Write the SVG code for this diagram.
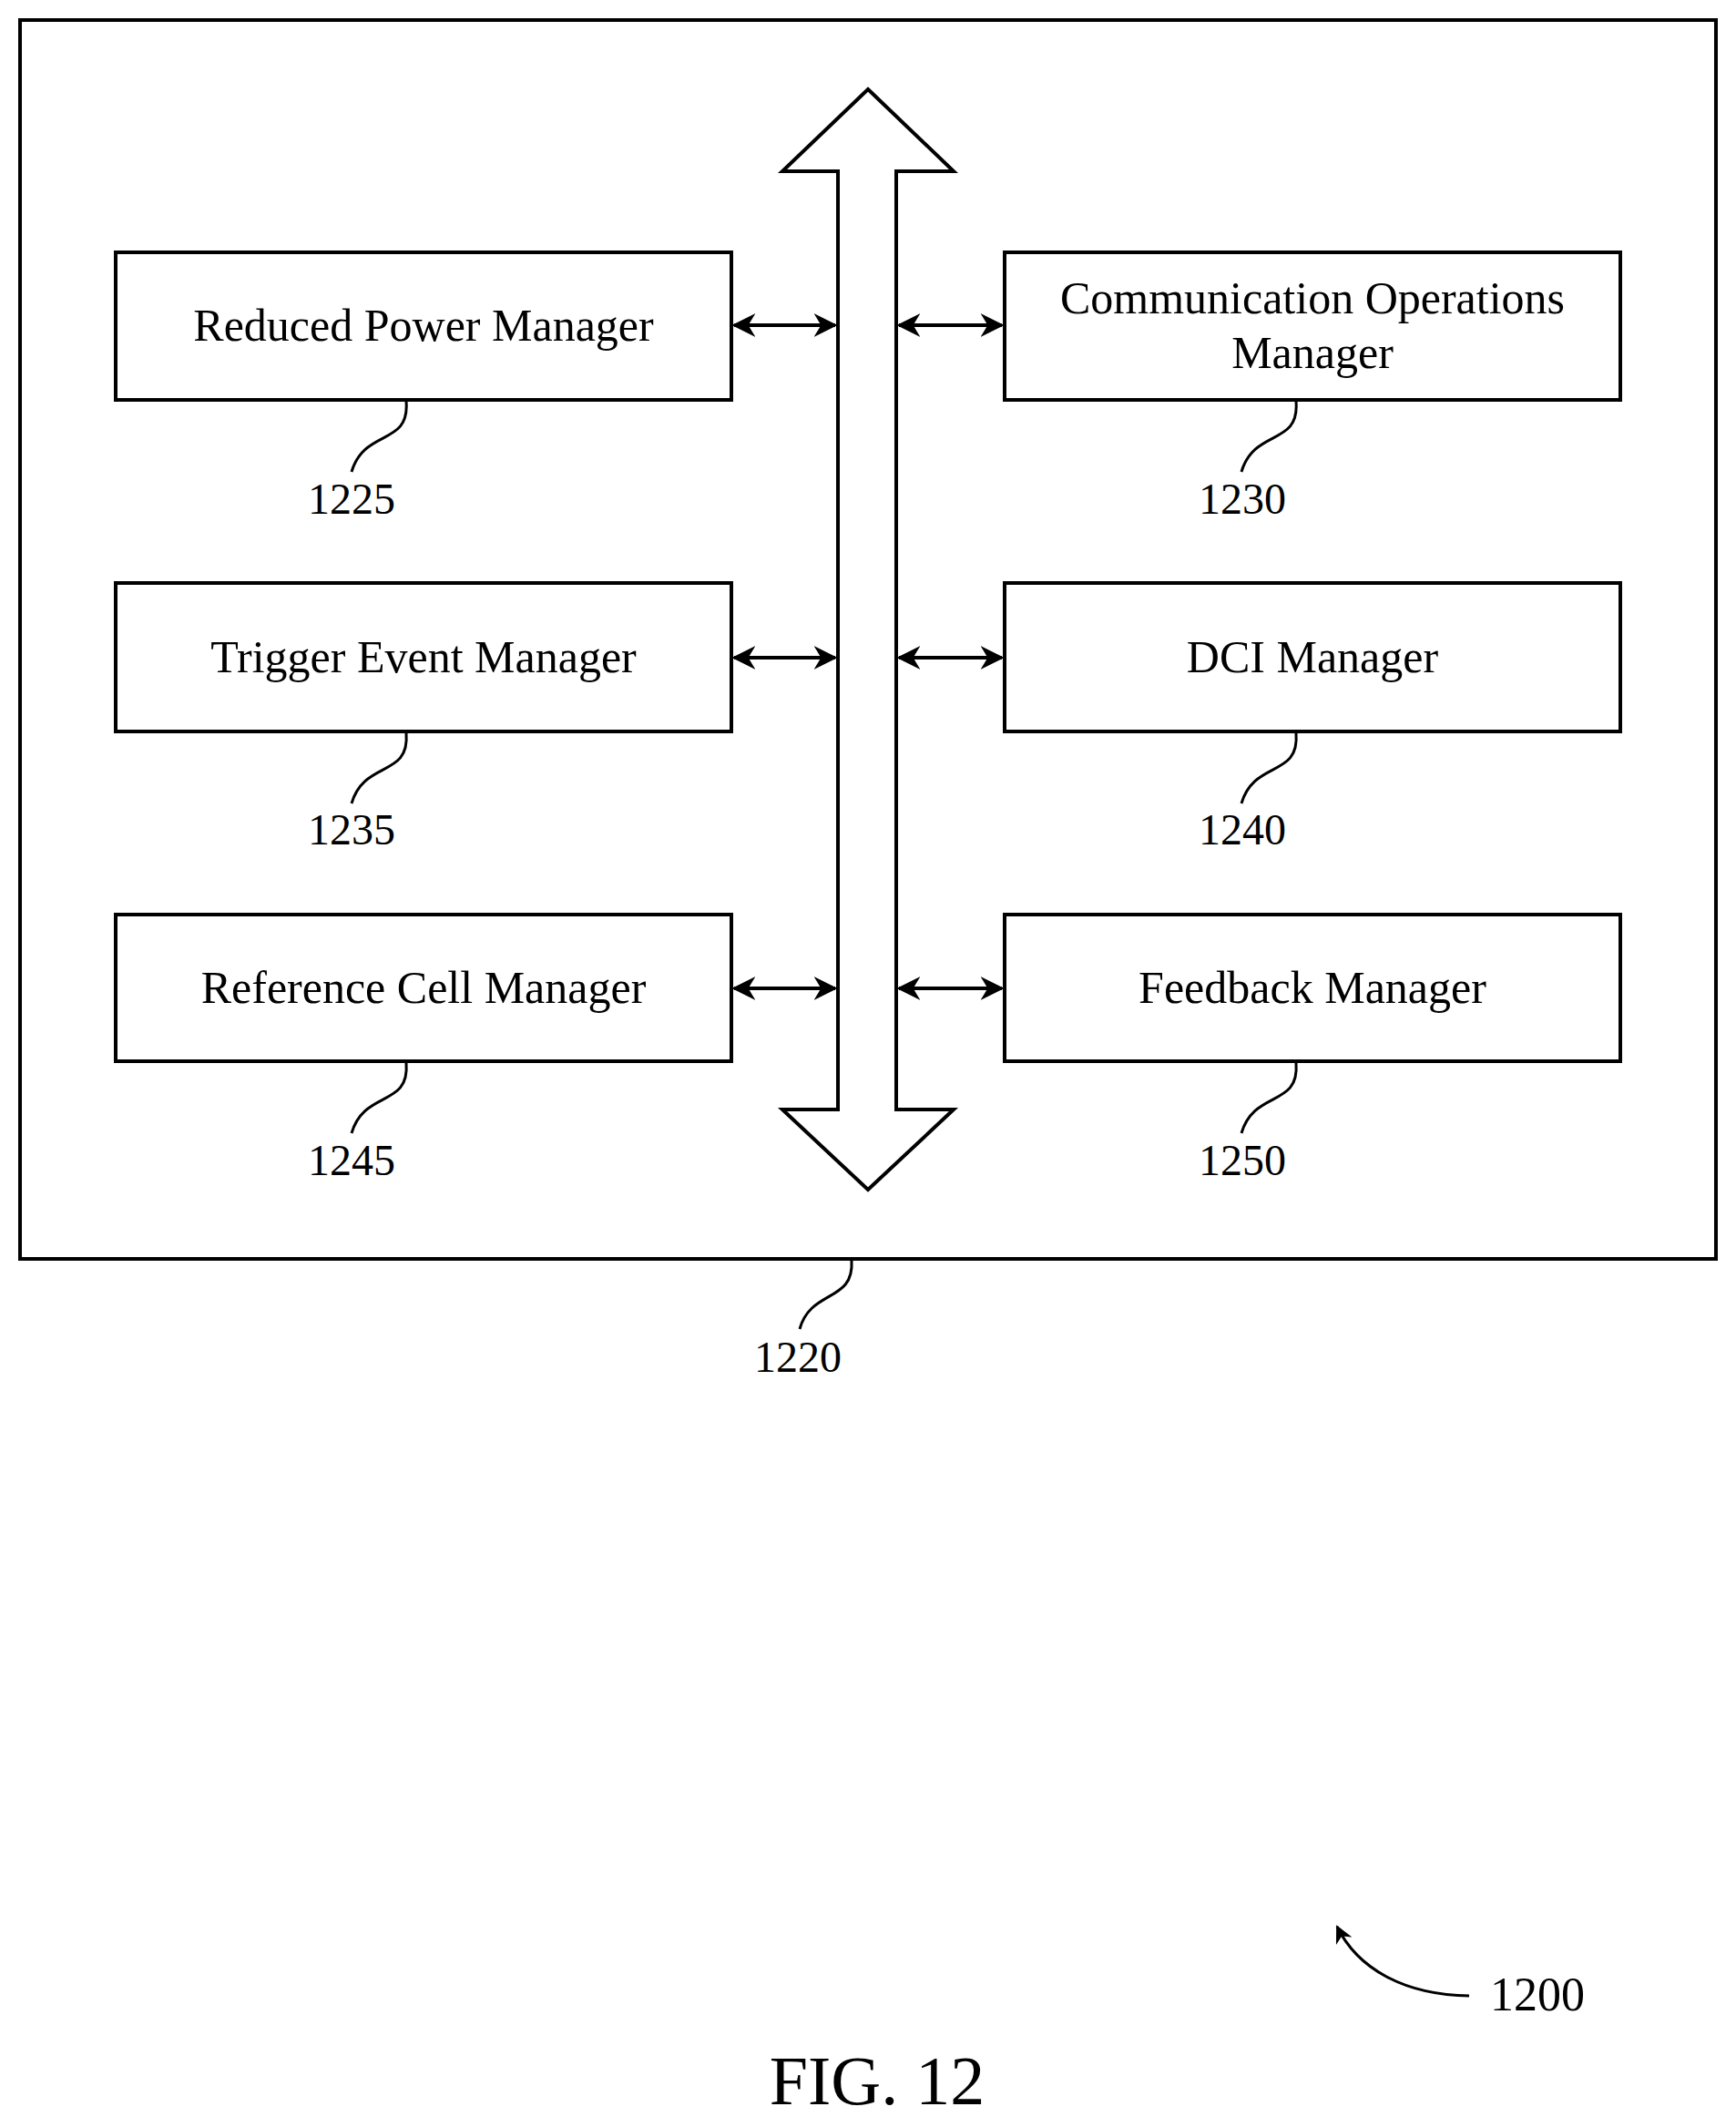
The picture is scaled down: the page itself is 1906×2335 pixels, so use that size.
<svg xmlns="http://www.w3.org/2000/svg" width="1906" height="2335" viewBox="0 0 1906 2335">
<style>
.b{fill:#fff;stroke:#000;stroke-width:4}
.t{font-family:"Liberation Serif",serif;font-size:50px;text-anchor:middle}
.n{font-family:"Liberation Serif",serif;font-size:48px;text-anchor:middle}
.l{fill:none;stroke:#000;stroke-width:3}
.c{fill:none;stroke:#000;stroke-width:4}
</style>
<defs>
<marker id="a" viewBox="0 0 10 10" refX="9" refY="5" markerWidth="6.5" markerHeight="6.5" orient="auto-start-reverse"><path d="M0,0L10,5L0,10L3,5z" fill="#000"/></marker>
</defs>
<rect id="outer" x="22" y="22" width="1862" height="1360" class="b"/>
<g id="bus"><path class="b" d="M953,98L1047,188L984,188L984,1218L1047,1218L953,1306L859,1218L920,1218L920,188L859,188Z"/></g>
<g id="n1225"><rect x="127" y="277" width="676" height="162" class="b"/><text class="t" x="465" y="374">Reduced Power Manager</text></g>
<g id="n1230"><rect x="1103" y="277" width="676" height="162" class="b"/><text class="t" x="1441" y="344">Communication Operations</text><text class="t" x="1441" y="404">Manager</text></g>
<g id="n1235"><rect x="127" y="640" width="676" height="163" class="b"/><text class="t" x="465" y="738">Trigger Event Manager</text></g>
<g id="n1240"><rect x="1103" y="640" width="676" height="163" class="b"/><text class="t" x="1441" y="738">DCI Manager</text></g>
<g id="n1245"><rect x="127" y="1004" width="676" height="161" class="b"/><text class="t" x="465" y="1101">Reference Cell Manager</text></g>
<g id="n1250"><rect x="1103" y="1004" width="676" height="161" class="b"/><text class="t" x="1441" y="1101">Feedback Manager</text></g>
<g id="connectors">
<line class="c" x1="806" y1="357" x2="917" y2="357" marker-start="url(#a)" marker-end="url(#a)"/>
<line class="c" x1="987" y1="357" x2="1100" y2="357" marker-start="url(#a)" marker-end="url(#a)"/>
<line class="c" x1="806" y1="722" x2="917" y2="722" marker-start="url(#a)" marker-end="url(#a)"/>
<line class="c" x1="987" y1="722" x2="1100" y2="722" marker-start="url(#a)" marker-end="url(#a)"/>
<line class="c" x1="806" y1="1085" x2="917" y2="1085" marker-start="url(#a)" marker-end="url(#a)"/>
<line class="c" x1="987" y1="1085" x2="1100" y2="1085" marker-start="url(#a)" marker-end="url(#a)"/>
<path class="l" d="M446,441C450,490 400,470 386,518"/>
<path class="l" d="M1423,441C1427,490 1377,470 1363,518"/>
<path class="l" d="M446,805C450,854 400,834 386,882"/>
<path class="l" d="M1423,805C1427,854 1377,834 1363,882"/>
<path class="l" d="M446,1167C450,1216 400,1196 386,1244"/>
<path class="l" d="M1423,1167C1427,1216 1377,1196 1363,1244"/>
<path class="l" d="M935,1384C938,1430 890,1415 878,1459"/>
<path class="l" d="M1613,2191C1540,2190 1490,2160 1468,2115" marker-end="url(#a)"/>
</g>
<text class="n" x="386" y="564">1225</text>
<text class="n" x="1364" y="564">1230</text>
<text class="n" x="386" y="927">1235</text>
<text class="n" x="1364" y="927">1240</text>
<text class="n" x="386" y="1290">1245</text>
<text class="n" x="1364" y="1290">1250</text>
<text class="n" x="876" y="1506">1220</text>
<text class="n" x="1688" y="2207" style="font-size:52px">1200</text>
<text class="n" x="963" y="2310" style="font-size:76px">FIG. 12</text>
</svg>
